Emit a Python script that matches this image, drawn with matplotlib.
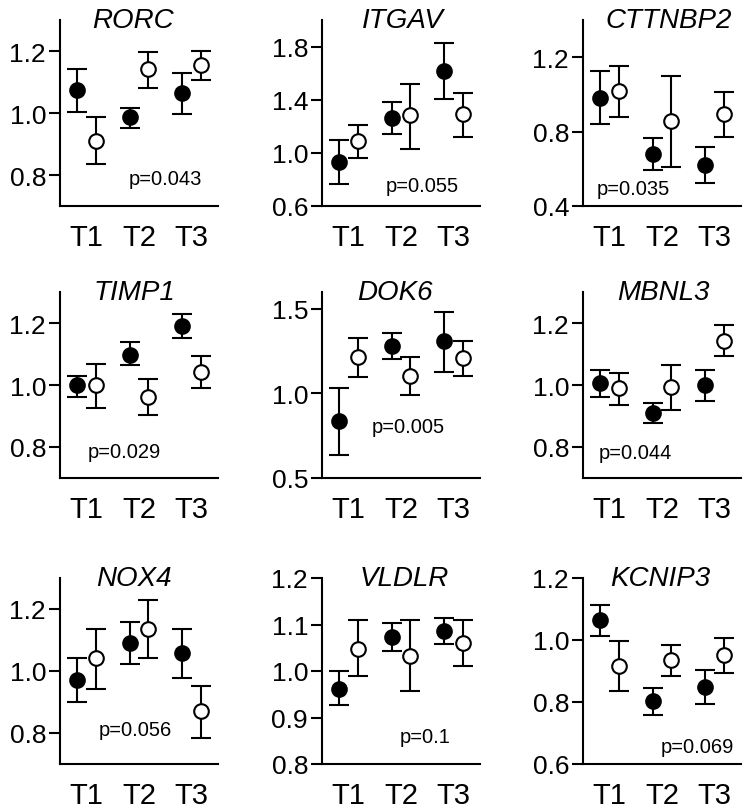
import matplotlib
matplotlib.use('Agg')
import matplotlib.pyplot as plt
from matplotlib.ticker import FormatStrFormatter

plt.rcParams['font.family'] = ['Liberation Sans', 'DejaVu Sans']

# Gene panels, left to right, top to bottom
genes = ['RORC', 'ITGAV', 'CTTNBP2', 'TIMP1', 'DOK6', 'MBNL3', 'NOX4', 'VLDLR', 'KCNIP3']
p_labels = ['p=0.043', 'p=0.055', 'p=0.035', 'p=0.029', 'p=0.005',
            'p=0.044', 'p=0.056', 'p=0.1', 'p=0.069']
timepoints = ['T1', 'T2', 'T3']

# filled circles: mean, upper and lower error bar ends
filled_mean = [[1.073, 0.987, 1.063], [0.934, 1.259, 1.619], [0.983, 0.679, 0.621],
               [1.001, 1.098, 1.190], [0.837, 1.280, 1.308], [1.007, 0.911, 1.000],
               [0.971, 1.090, 1.058], [0.961, 1.073, 1.087], [1.065, 0.802, 0.849]]
filled_hi = [[1.141, 1.016, 1.129], [1.094, 1.383, 1.830], [1.126, 0.764, 0.719],
             [1.029, 1.138, 1.230], [1.034, 1.358, 1.483], [1.049, 0.943, 1.049],
             [1.041, 1.159, 1.136], [0.999, 1.103, 1.114], [1.114, 0.846, 0.903]]
filled_lo = [[1.002, 0.953, 0.997], [0.769, 1.140, 1.404], [0.843, 0.594, 0.521],
             [0.960, 1.063, 1.152], [0.638, 1.205, 1.125], [0.962, 0.876, 0.947],
             [0.900, 1.023, 0.978], [0.927, 1.043, 1.059], [1.013, 0.757, 0.795]]

# open circles
open_mean = [[0.910, 1.141, 1.154], [1.086, 1.284, 1.289], [1.017, 0.856, 0.892],
             [1.000, 0.962, 1.043], [1.215, 1.105, 1.209], [0.989, 0.992, 1.141],
             [1.041, 1.136, 0.870], [1.047, 1.033, 1.060], [0.916, 0.935, 0.951]]
open_hi = [[0.987, 1.198, 1.201], [1.206, 1.518, 1.449], [1.153, 1.100, 1.012],
           [1.067, 1.020, 1.092], [1.328, 1.215, 1.310], [1.039, 1.063, 1.193],
           [1.136, 1.229, 0.951], [1.109, 1.109, 1.109], [0.998, 0.984, 1.008]]
open_lo = [[0.834, 1.082, 1.108], [0.962, 1.030, 1.119], [0.878, 0.610, 0.773],
           [0.927, 0.902, 0.991], [1.097, 0.992, 1.103], [0.936, 0.919, 1.092],
           [0.941, 1.041, 0.784], [0.989, 0.956, 1.010], [0.836, 0.883, 0.892]]

# y axis ranges and ticks
y_limits = [(0.7, 1.3), (0.6, 2.0), (0.4, 1.4), (0.7, 1.3), (0.5, 1.6),
            (0.7, 1.3), (0.7, 1.3), (0.8, 1.2), (0.6, 1.2)]
y_ticks = [[0.8, 1.0, 1.2], [0.6, 1.0, 1.4, 1.8], [0.4, 0.8, 1.2],
           [0.8, 1.0, 1.2], [0.5, 1.0, 1.5], [0.8, 1.0, 1.2],
           [0.8, 1.0, 1.2], [0.8, 0.9, 1.0, 1.1, 1.2], [0.6, 0.8, 1.0, 1.2]]

# layout (figure pixels) and text placement (axes fraction)
W, H = 751, 812
col_left = [60, 322, 583]
row_bottom = [207, 479, 765]
ax_w, ax_h = 158, 186
title_x = [0.46, 0.51, 0.54, 0.47, 0.46, 0.51, 0.47, 0.52, 0.49]
p_pos = [(0.67, 0.118), (0.633, 0.082), (0.318, 0.065), (0.41, 0.111), (0.548, 0.249),
         (0.329, 0.106), (0.475, 0.154), (0.654, 0.116), (0.723, 0.066)]

offset = 0.18
lw = 1.5

fig = plt.figure(figsize=(W / 100, H / 100), dpi=100)

for i, gene in enumerate(genes):
    r, c = divmod(i, 3)
    ax = fig.add_axes([col_left[c] / W, 1 - row_bottom[r] / H, ax_w / W, ax_h / H])
    x = [1, 2, 3]
    xf = [v - offset for v in x]
    xo = [v + offset for v in x]

    fm, fh, fl = filled_mean[i], filled_hi[i], filled_lo[i]
    om, oh, ol = open_mean[i], open_hi[i], open_lo[i]
    ferr = [[m - l for m, l in zip(fm, fl)], [h - m for m, h in zip(fm, fh)]]
    oerr = [[m - l for m, l in zip(om, ol)], [h - m for m, h in zip(om, oh)]]

    ax.errorbar(xf, fm, yerr=ferr, fmt='o', color='black', mfc='black', mec='black',
                ms=10.5, mew=lw, elinewidth=lw, capsize=7, capthick=lw, clip_on=False)
    ax.errorbar(xo, om, yerr=oerr, fmt='o', color='black', mfc='white', mec='black',
                ms=10.5, mew=lw, elinewidth=lw, capsize=7, capthick=lw, clip_on=False)

    ax.set_xlim(0.5, 3.5)
    ax.set_ylim(*y_limits[i])
    ax.set_yticks(y_ticks[i])
    ax.yaxis.set_major_formatter(FormatStrFormatter('%.1f'))
    ax.set_xticks(x)
    ax.set_xticklabels(timepoints)

    for side in ['top', 'right']:
        ax.spines[side].set_visible(False)
    for side in ['left', 'bottom']:
        ax.spines[side].set_linewidth(lw)

    ax.tick_params(axis='y', length=8, width=lw, pad=2, labelsize=19)
    ax.tick_params(axis='x', length=0, pad=12, labelsize=21)

    ax.text(title_x[i], 1.0, gene, transform=ax.transAxes, ha='center', va='center',
            fontsize=20, style='italic')
    ax.text(p_pos[i][0], p_pos[i][1], p_labels[i], transform=ax.transAxes,
            ha='center', va='baseline', fontsize=14.5)

plt.savefig('out.png', dpi=100)
